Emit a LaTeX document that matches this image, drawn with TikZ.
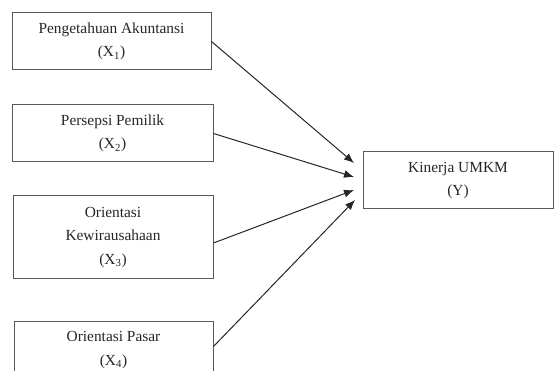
\documentclass[tikz,border=0pt]{standalone}
\usepackage{fontspec}
\setmainfont{Liberation Serif}
\usetikzlibrary{arrows.meta,positioning}

\begin{document}
\begin{tikzpicture}[>={Latex[length=10pt,width=8pt]}, x=1pt, y=-1pt,
  var/.style={draw=black!65, line width=1pt, minimum width=199pt, minimum height=57pt,
    align=center, inner sep=0pt, text=black!85, font=\fontsize{15.4}{23.5}\selectfont},
  link/.style={->, line width=1pt, black!85}]
\useasboundingbox (0,0) rectangle (555,371);

\node[var] (x1) at (111.5,41.5) {Pengetahuan Akuntansi\\(X\textsubscript{1})};
\node[var, minimum width=201pt] (x2) at (112.5,133.5) {Persepsi Pemilik\\(X\textsubscript{2})};
\node[var, minimum width=200pt, minimum height=83pt] (x3) at (113,237.5) {Orientasi\\Kewirausahaan\\(X\textsubscript{3})};
\node[var, anchor=north] (x4) at (113.5,321) {Orientasi Pasar\\(X\textsubscript{4})};

\node[var, minimum width=190pt] (y) at (458,180.5) {Kinerja UMKM\\(Y)};

% arrow tips stop short of the box
\coordinate (t1) at (354,163);
\coordinate (t2) at (354,177);
\coordinate (t3) at (354,190);
\coordinate (t4) at (355,200);

\draw[link] (x1.east) -- (t1);
\draw[link] (x2.east) -- (t2);
\draw[link] ([yshift=-5.5pt]x3.east) -- (t3);
\draw[link] ([yshift=3.5pt]x4.east) -- (t4);
\end{tikzpicture}
\end{document}
